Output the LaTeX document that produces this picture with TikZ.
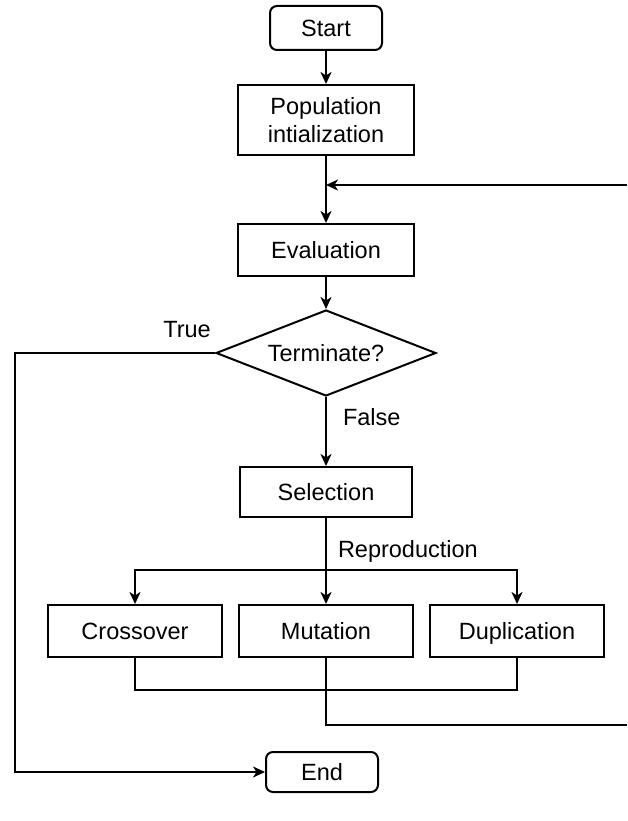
\documentclass[tikz,border=0pt]{standalone}
\usepackage{fontspec}
\setmainfont{Liberation Sans}
\usetikzlibrary{shapes.geometric,arrows.meta}
\begin{document}
\begin{tikzpicture}[x=1pt,y=-1pt,
  font=\fontsize{23.5}{28}\selectfont,
  line width=2pt,
  flow/.style={-{Stealth[length=12pt,width=11pt,inset=3.5pt]}},
  oneline/.style={text height=17pt,text depth=0pt},
  procbox/.style={draw,rectangle,inner sep=0pt,align=center},
  termbox/.style={draw,rectangle,rounded corners=7pt,inner sep=0pt,oneline},
  decbox/.style={draw,diamond,aspect=2.5,inner sep=0pt,minimum width=220pt,minimum height=86pt,oneline},
  lbl/.style={inner sep=1pt}]
\useasboundingbox (0,0) rectangle (627,821);

% main column
\node[termbox,minimum width=112pt,minimum height=44pt] (start) at (326,28) {Start};
\node[procbox,minimum width=176pt,minimum height=70pt] (pop) at (326,120) {Population\\intialization};
\node[procbox,oneline,minimum width=176pt,minimum height=52pt] (eval) at (326,250) {Evaluation};
\node[decbox] (term) at (326,353) {Terminate?};
\node[procbox,oneline,minimum width=172pt,minimum height=50pt] (sel) at (326,492) {Selection};

% genetic operators
\node[procbox,oneline,minimum width=174pt,minimum height=52pt] (cross) at (135,631) {Crossover};
\node[procbox,oneline,minimum width=174pt,minimum height=52pt] (mut) at (326,631) {Mutation};
\node[procbox,oneline,minimum width=174pt,minimum height=52pt] (dup) at (517,631) {Duplication};

\node[termbox,minimum width=112pt,minimum height=40pt] (end) at (322,772) {End};

% branch labels
\node[lbl,anchor=base] (ltrue) at (187,337) {True};
\node[lbl,anchor=base west] (lfalse) at (341,425) {False};
\node[lbl,anchor=base west] (lrep) at (336,557) {Reproduction};

% helper points
\coordinate (fbin) at (627,185);
\coordinate (fbout) at (627,725);
\coordinate (tl) at (15,353);
\coordinate (br) at (326,570);
\coordinate (jn) at (326,690);

% connectors
\draw[flow] (start) -- (pop);
\draw[flow] (pop) -- (eval);
\draw[flow] (fbin) -- (pop.south |- fbin);
\draw[flow] (eval) -- (term);
\draw[flow] (term.west) -- (tl) |- (end.west);
\draw[flow] (term.south) -- (sel.north);
\draw (sel.south) -- (br);
\draw[flow] (br) -- (mut.north);
\draw[flow] (br) -| (cross.north);
\draw[flow] (br) -| (dup.north);
\draw (cross.south) |- (jn) -| (dup.south);
\draw (mut.south) |- (fbout);
\end{tikzpicture}
\end{document}
